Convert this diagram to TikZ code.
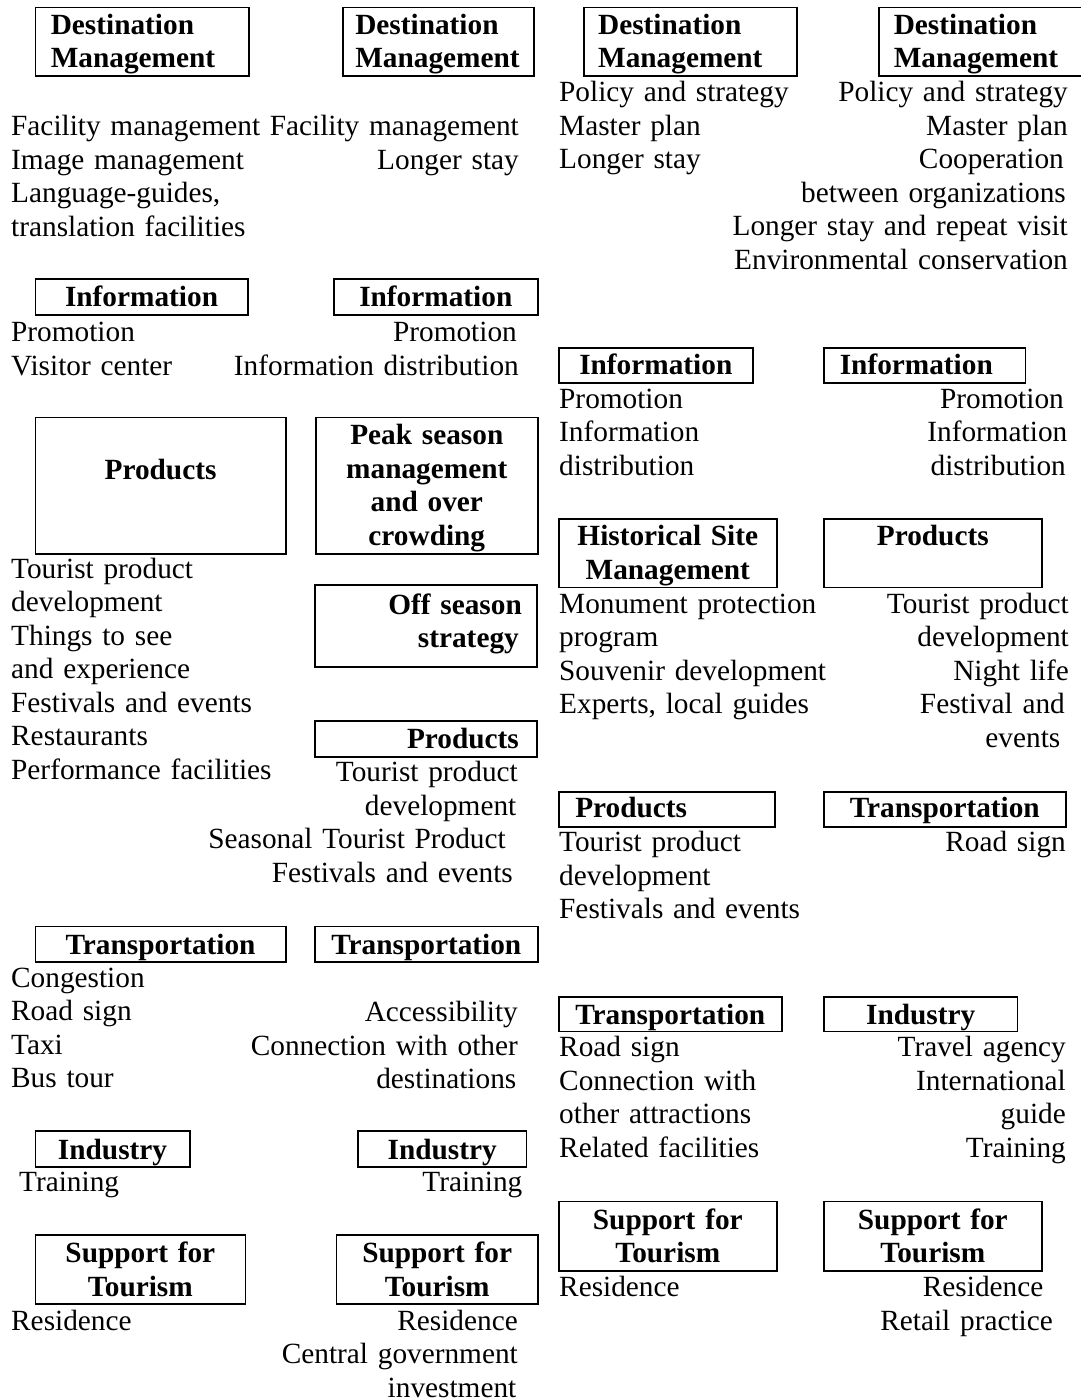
\documentclass[tikz,border=0pt]{standalone}
\usepackage{fontspec}
\setmainfont{Liberation Serif}
\usepackage{tikz}

\newcommand\diagfont{\fontsize{29.3}{33.5}\selectfont}
\newcommand\padr[1]{\hspace*{#1}\null}

\tikzset{
	catbox/.style={draw, line width=1.6pt, font=\diagfont\bfseries, anchor=north west,
		inner ysep=0pt, inner xsep=10pt},
	itemleft/.style={font=\diagfont, inner sep=0pt, text width=360pt, align=left, anchor=base west},
	itemright/.style={font=\diagfont, inner sep=0pt, text width=360pt, align=right, anchor=base east}
}

\begin{document}
\begin{tikzpicture}[x=1pt,y=-1pt]

	\useasboundingbox (0,0) rectangle (1080,1399);

	%% ---------------- left half ----------------

	% destination management
	\node[catbox, inner xsep=15.5pt, text width=182.5pt, align=left, text height=26.6pt, text depth=41.7pt]
		(dm1) at (34.5,6.7) {Destination\\Management};
	\node[catbox, inner xsep=12.5pt, text width=166pt, align=left, text height=26.6pt, text depth=41.7pt]
		(dm2) at (342,6.7) {Destination\\Management};

	\node[itemleft] (c1a) at (11,136)
		{Facility management\\Image management\\Language-guides,\\translation facilities};
	\node[itemright] (c2a) at (519,136)
		{Facility management\\Longer stay};

	% information
	\node[catbox, text width=192.5pt, align=center, text height=27.7pt, text depth=8pt]
		(info1) at (34.5,278.3) {Information};
	\node[catbox, text width=184pt, align=center, text height=27.7pt, text depth=8pt]
		(info2) at (333,278.3) {Information};

	\node[itemleft] (c1b) at (11,341.7) {Promotion\\Visitor center};
	\node[itemright] (c2b) at (519,341.7) {Promotion\padr{2pt}\\Information distribution};

	% products / peak season
	\node[catbox, text width=230.5pt, align=center, text height=61.6pt, text depth=75pt]
		(prod1) at (34.5,416.7) {Products};
	\node[catbox, text width=202pt, align=center, text height=27.3pt, text depth=109.3pt]
		(peak) at (315,416.7) {Peak season\\management\\and over\\crowding};

	\node[itemleft] (c1c) at (11,578.3)
		{Tourist product\\development\\Things to see\\and experience\\Festivals and events\\Restaurants\\Performance facilities};

	% off season
	\node[catbox, inner xsep=15pt, text width=192pt, align=right, text height=29.3pt, text depth=52.7pt]
		(off) at (314,584) {Off season\\strategy\padr{3pt}};
	\node[catbox, inner xsep=18pt, text width=186pt, align=right, text height=27.5pt, text depth=8.5pt]
		(prod2) at (314,720) {Products};

	\node[itemright] (c2c) at (518,781.7)
		{Tourist product\\development\padr{1.5pt}\\Seasonal Tourist Product\padr{12pt}\\Festivals and events\padr{5pt}};

	% transportation
	\node[catbox, text width=230.5pt, align=center, text height=27.6pt, text depth=7.7pt]
		(trans1) at (34.5,925.7) {Transportation};
	\node[catbox, text width=203pt, align=center, text height=27.6pt, text depth=7.7pt]
		(trans2) at (314,925.7) {Transportation};

	\node[itemleft] (c1d) at (11,987) {Congestion\\Road sign\\Taxi\\Bus tour};
	\node[itemright] (c2d) at (518,1021.7)
		{Accessibility\\Connection with other\\destinations\padr{1.5pt}};

	% industry
	\node[catbox, text width=134.5pt, align=center, text height=28.3pt, text depth=7.7pt]
		(ind1) at (34.5,1130) {Industry};
	\node[catbox, text width=148.7pt, align=center, text height=28.3pt, text depth=7.7pt]
		(ind2) at (357,1130) {Industry};

	\node[itemleft] (c1e) at (19,1191.7) {Training};
	\node[itemright] (c2e) at (522.5,1191.7) {Training};

	% support for tourism
	\node[catbox, text width=190.1pt, align=center, text height=27.7pt, text depth=41.3pt]
		(sup1) at (34.5,1234) {Support for\\Tourism};
	\node[catbox, text width=181.2pt, align=center, text height=27.7pt, text depth=41.3pt]
		(sup2) at (335.8,1234) {Support for\\Tourism};

	\node[itemleft] (c1f) at (11,1330) {Residence};
	\node[itemright] (c2f) at (518,1330)
		{Residence\\Central government\\investment\padr{1.5pt}};

	%% ---------------- right half ----------------

	% destination management
	\node[catbox, inner xsep=14pt, text width=184.7pt, align=left, text height=26.6pt, text depth=41.7pt]
		(dm3) at (583.3,6.7) {Destination\\Management};
	\node[catbox, inner xsep=14.6pt, text width=182.4pt, align=left, text height=26.6pt, text depth=41.7pt]
		(dm4) at (878.4,6.7) {Destination\\Management};

	\node[itemleft] (c3a) at (559,101.7)
		{Policy and strategy\\Master plan\\Longer stay};
	\node[itemright] (c4a) at (1068,101.7)
		{Policy and strategy\\Master plan\\Cooperation\padr{4pt}\\between organizations\padr{2pt}\\Longer stay and repeat visit\\Environmental conservation};

	% information
	\node[catbox, text width=174pt, align=center, text height=26pt, text depth=9pt]
		(info3) at (558,347.3) {Information};
	\node[catbox, inner xsep=16pt, text width=169.6pt, align=left, text height=26pt, text depth=9pt]
		(info4) at (823,347.3) {Information};

	\node[itemleft] (c3b) at (559,408.3) {Promotion\\Information\\distribution};
	\node[itemright] (c4b) at (1067.5,408.3)
		{Promotion\padr{3.5pt}\\Information\\distribution\padr{1.5pt}};

	% historical site / products
	\node[catbox, text width=198pt, align=center, text height=26.7pt, text depth=41.7pt]
		(hist) at (558,518.3) {Historical Site\\Management};
	\node[catbox, text width=198pt, align=center, text height=26.7pt, text depth=41.7pt]
		(prod4) at (823,518.3) {Products};

	\node[itemleft] (c3c) at (559,613.3)
		{Monument protection\\program\\Souvenir development\\Experts, local guides};
	\node[itemright] (c4c) at (1069,613.3)
		{Tourist product\\development\\Night life\\Festival and\padr{4pt}\\events\padr{8.5pt}};

	% products / transportation
	\node[catbox, inner xsep=16.5pt, text width=183pt, align=left, text height=25.7pt, text depth=9.3pt]
		(prod3) at (558,791) {Products};
	\node[catbox, text width=222pt, align=center, text height=25.7pt, text depth=9.3pt]
		(trans4) at (823,791) {Transportation};

	\node[itemleft] (c3d) at (559,851.7)
		{Tourist product\\development\\Festivals and events};
	\node[itemright] (c4d) at (1066,851.7) {Road sign};

	% transportation / industry
	\node[catbox, text width=203pt, align=center, text height=27.3pt, text depth=7.4pt]
		(trans3) at (558,996) {Transportation};
	\node[catbox, text width=173.7pt, align=center, text height=27.3pt, text depth=7.4pt]
		(ind4) at (823,996) {Industry};

	\node[itemleft] (c3e) at (559,1056.7)
		{Road sign\\Connection with\\other attractions\\Related facilities};
	\node[itemright] (c4e) at (1066,1056.7)
		{Travel agency\\International\\guide\\Training};

	% support for tourism
	\node[catbox, text width=198pt, align=center, text height=27.6pt, text depth=41.7pt]
		(sup3) at (558,1200.7) {Support for\\Tourism};
	\node[catbox, text width=198pt, align=center, text height=27.6pt, text depth=41.7pt]
		(sup4) at (823,1200.7) {Support for\\Tourism};

	\node[itemleft] (c3f) at (559,1296.7) {Residence};
	\node[itemright] (c4f) at (1053,1296.7) {Residence\padr{9.5pt}\\Retail practice};

\end{tikzpicture}
\end{document}
